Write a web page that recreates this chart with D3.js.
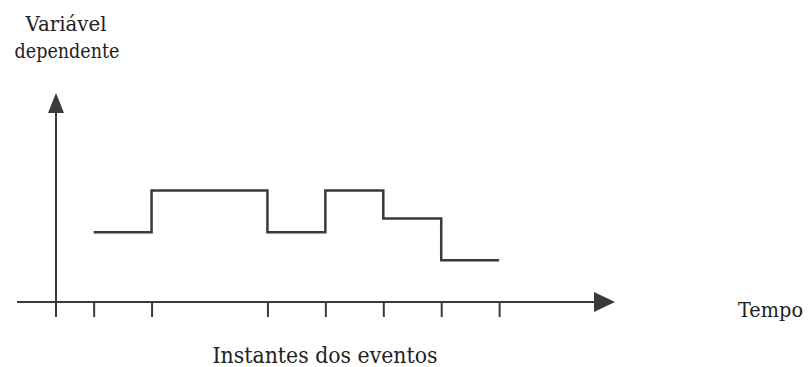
<!DOCTYPE html>
<html>
<head>
<meta charset="utf-8">
<script src="https://cdn.jsdelivr.net/npm/d3@7"></script>
<style>
  html, body { margin: 0; padding: 0; background: #fff; }
  svg { display: block; }
</style>
</head>
<body>
<svg id="chart" width="808" height="367"></svg>
<script>
// Event instants (time units) and the value held between consecutive events
const eventTimes = [1, 2, 4, 5, 6, 7, 8];
const stepValues = [5, 8, 5, 8, 6, 3];
const yLabelLines = ["Variável", "dependente"];
const xLabel = "Instantes dos eventos";
const timeLabel = "Tempo";

const svg = d3.select("#chart");
const ink = "#3a3a3a";
const serif = "'DejaVu Serif', serif";

const x = d3.scaleLinear().domain([0.35, 10]).range([56, 615]);
const y = d3.scaleLinear().domain([0, 15]).range([302, 93]);

const x0 = x(0.35), y0 = y(0);

// horizontal axis line
svg.append("line")
  .attr("x1", 17).attr("x2", x(10) - 18)
  .attr("y1", y0).attr("y2", y0)
  .attr("stroke", ink).attr("stroke-width", 2);
// horizontal arrow head
svg.append("path")
  .attr("d", `M${x(10)},${y0} L${x(10) - 21},${y0 - 10} L${x(10) - 21},${y0 + 10} Z`)
  .attr("fill", ink);

// vertical axis line
svg.append("line")
  .attr("x1", x0).attr("x2", x0)
  .attr("y1", y0 + 15).attr("y2", y(15) + 18)
  .attr("stroke", ink).attr("stroke-width", 2);
// vertical arrow head
svg.append("path")
  .attr("d", `M${x0},${y(15)} L${x0 - 8},${y(15) + 20} L${x0 + 8},${y(15) + 20} Z`)
  .attr("fill", ink);

// event ticks
const axis = d3.axisBottom(x).tickValues(eventTimes).tickSize(15).tickFormat("");
const gAxis = svg.append("g").attr("transform", `translate(0,${y0})`).call(axis);
gAxis.select(".domain").remove();
gAxis.selectAll(".tick line").attr("stroke", ink).attr("stroke-width", 2);

// step line
const pts = stepValues.map((v, i) => [eventTimes[i], v]);
pts.push([eventTimes[eventTimes.length - 1], stepValues[stepValues.length - 1]]);
const line = d3.line().x(d => x(d[0])).y(d => y(d[1])).curve(d3.curveStepAfter);
svg.append("path")
  .attr("d", line(pts))
  .attr("fill", "none")
  .attr("stroke", ink)
  .attr("stroke-width", 2.5);

// labels
function label(txt, px, py, size, anchor, len) {
  const t = svg.append("text")
    .attr("x", px).attr("y", py)
    .attr("text-anchor", anchor)
    .attr("font-family", serif)
    .attr("font-size", size)
    .attr("fill", "#222")
    .text(txt);
  if (len) t.attr("textLength", len).attr("lengthAdjust", "spacingAndGlyphs");
  return t;
}
label(yLabelLines[0], 66, 31, 20, "middle", 81);
label(yLabelLines[1], 67, 58, 20, "middle", 105);
label(xLabel, 325, 363, 22, "middle", 225);
label(timeLabel, 738, 317, 20, "start", 65);
</script>
</body>
</html>
